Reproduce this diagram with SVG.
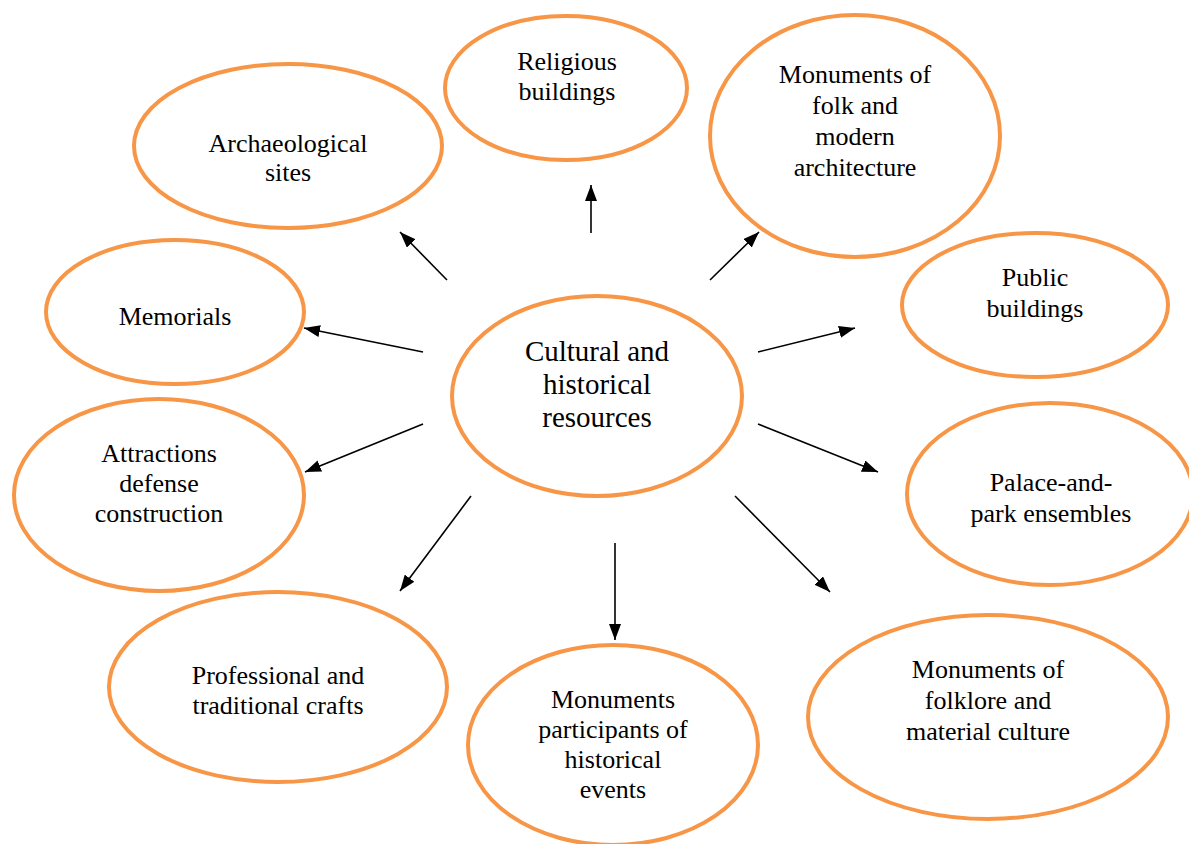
<svg xmlns="http://www.w3.org/2000/svg" width="1189" height="844" viewBox="0 0 1189 844">
<style>
.node ellipse{fill:#fff;stroke:#F79646;stroke-width:4}
text{font-family:"Liberation Serif","Times New Roman",serif;font-size:26px;fill:#000;text-anchor:middle}
.big{font-size:29px}
.conn line{stroke:#000;stroke-width:1.6;marker-end:url(#ah)}
</style>
<defs>
<marker id="ah" markerUnits="userSpaceOnUse" markerWidth="16" markerHeight="12" viewBox="0 0 16 12" refX="16" refY="6" orient="auto">
<path d="M0,0 L16,6 L0,12 Z" fill="#000"/>
</marker>
</defs>
<rect width="1189" height="844" fill="#fff"/>
<g id="center" class="node"><ellipse cx="597" cy="396" rx="145" ry="100"/>
<text class="big" x="597" y="361">Cultural and</text><text class="big" x="597" y="394">historical</text><text class="big" x="597" y="427">resources</text></g>
<g id="religious" class="node"><ellipse cx="566" cy="88" rx="121" ry="72"/>
<text x="567" y="70">Religious</text><text x="567" y="100">buildings</text></g>
<g id="archaeological" class="node"><ellipse cx="288" cy="146" rx="154" ry="82"/>
<text x="288" y="152">Archaeological</text><text x="288" y="181">sites</text></g>
<g id="folk-architecture" class="node"><ellipse cx="855" cy="136" rx="145" ry="121"/>
<text x="855" y="83">Monuments of</text><text x="855" y="114">folk and</text><text x="855" y="145">modern</text><text x="855" y="176">architecture</text></g>
<g id="public" class="node"><ellipse cx="1035" cy="305" rx="133" ry="72"/>
<text x="1035" y="286">Public</text><text x="1035" y="317">buildings</text></g>
<g id="memorials" class="node"><ellipse cx="175" cy="312" rx="129" ry="72"/>
<text x="175" y="325">Memorials</text></g>
<g id="attractions" class="node"><ellipse cx="159" cy="495" rx="145" ry="96"/>
<text x="159" y="462">Attractions</text><text x="159" y="492">defense</text><text x="159" y="522">construction</text></g>
<g id="palace" class="node"><ellipse cx="1050" cy="494" rx="143" ry="91"/>
<text x="1051" y="491">Palace-and-</text><text x="1051" y="522">park ensembles</text></g>
<g id="crafts" class="node"><ellipse cx="278" cy="687" rx="169" ry="95"/>
<text x="278" y="684">Professional and</text><text x="278" y="714">traditional crafts</text></g>
<g id="participants" class="node"><ellipse cx="613" cy="745" rx="145" ry="100"/>
<text x="613" y="708">Monuments</text><text x="613" y="738">participants of</text><text x="613" y="768">historical</text><text x="613" y="798">events</text></g>
<g id="folklore" class="node"><ellipse cx="988" cy="717" rx="180" ry="102"/>
<text x="988" y="678">Monuments of</text><text x="988" y="709">folklore and</text><text x="988" y="740">material culture</text></g>
<g id="connectors" class="conn">
<line x1="591" y1="233" x2="591" y2="185"/>
<line x1="447" y1="280" x2="400" y2="232"/>
<line x1="710" y1="280" x2="759" y2="232"/>
<line x1="423" y1="352" x2="304" y2="328"/>
<line x1="758" y1="352" x2="855" y2="328"/>
<line x1="423" y1="424" x2="305" y2="472"/>
<line x1="758" y1="424" x2="878" y2="472"/>
<line x1="471" y1="496" x2="400" y2="591"/>
<line x1="615" y1="543" x2="615" y2="640"/>
<line x1="735" y1="496" x2="830" y2="592"/>
</g>
</svg>
